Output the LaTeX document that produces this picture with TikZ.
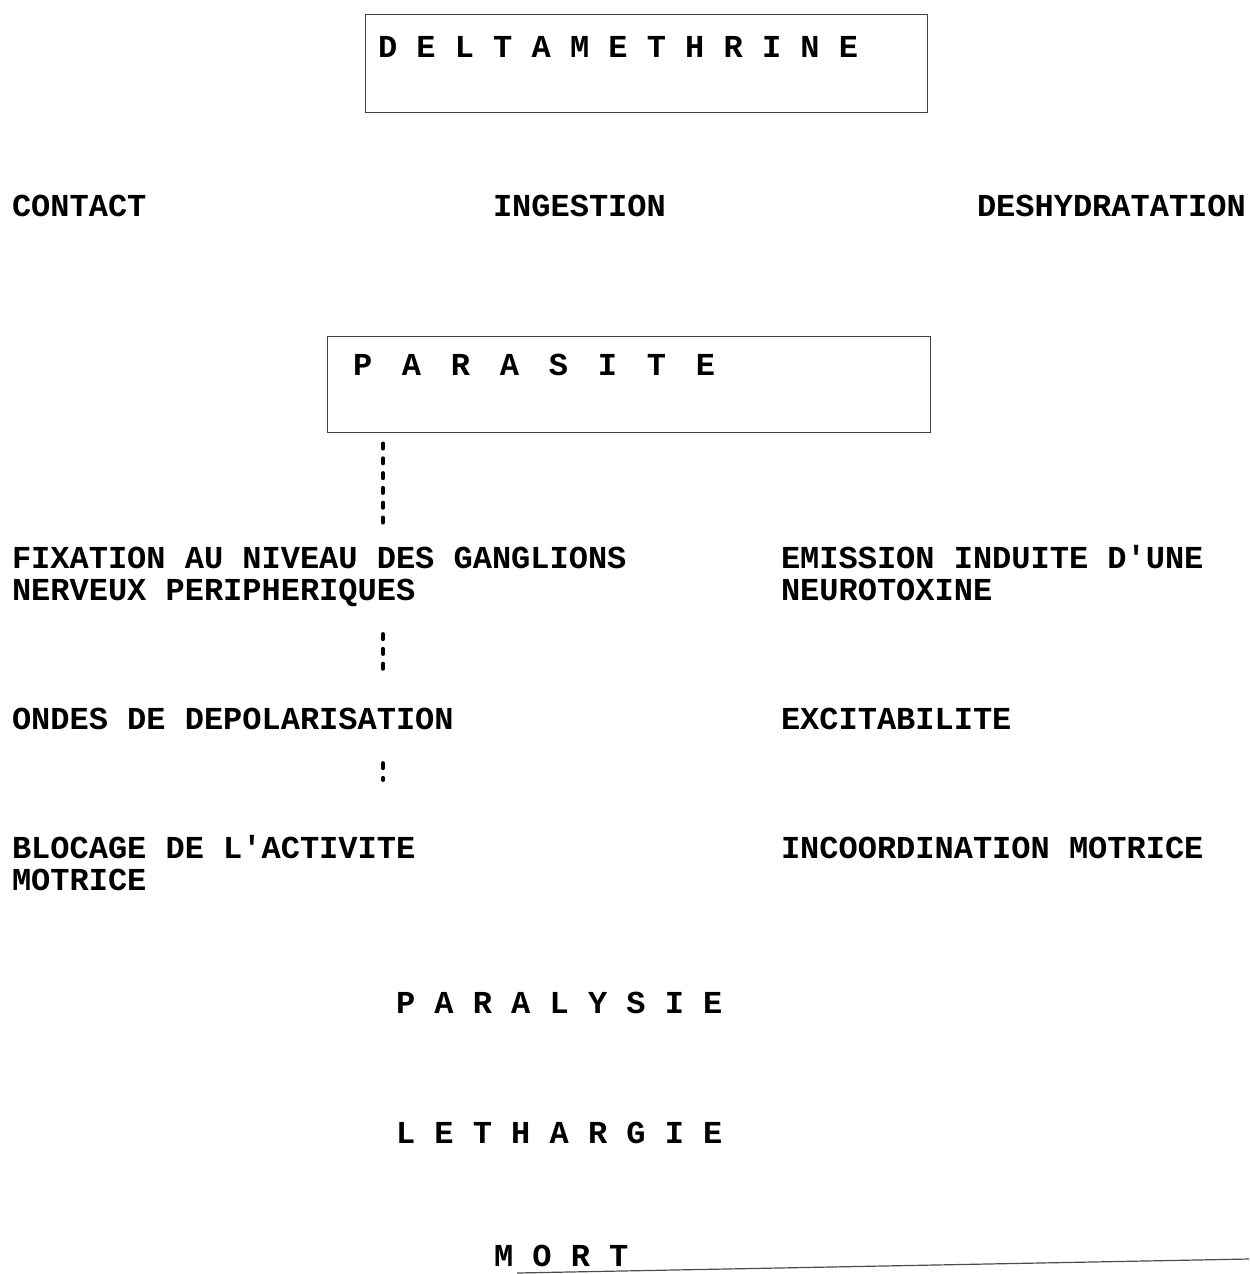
\documentclass[tikz,border=0pt]{standalone}
\usepackage{fontspec}
\setmonofont{Liberation Mono}
\usetikzlibrary{calc}
\begin{document}
\begin{tikzpicture}[x=0.5pt,y=-0.5pt,
  lbl/.style={anchor=base west,inner sep=0pt,outer sep=0pt,align=left,
    font=\ttfamily\bfseries\fontsize{16}{16}\selectfont},
  frame/.style={draw=black!75,line width=0.7pt},
  conn/.style={line width=1.9pt,line cap=round,dash pattern=on 2.6pt off 4.8pt},
  rise/.style={draw=black!70,line width=0.6pt}]
\useasboundingbox (0,0) rectangle (1249,1274);
% boxes
\node[frame,minimum width=281pt,minimum height=49pt,anchor=north west,inner sep=0pt] (delbox) at (365,14) {};
\node[lbl] (delta) at (378,57) {D E L T A M E T H R I N E};
\node[frame,minimum width=301.5pt,minimum height=48pt,anchor=north west,inner sep=0pt] (parasite) at (327,336) {};
\node[lbl] (para) at (353,375) {\makebox[24.5pt][l]{P}\makebox[24.5pt][l]{A}\makebox[24.5pt][l]{R}\makebox[24.5pt][l]{A}\makebox[24.5pt][l]{S}\makebox[24.5pt][l]{I}\makebox[24.5pt][l]{T}E};
% routes
\node[lbl] (contact) at (12,216) {CONTACT};
\node[lbl] (ingestion) at (493,216) {INGESTION};
\node[lbl] (deshyd) at (977,216) {DESHYDRATATION};
% left column (base = baseline of last line)
\node[lbl] (fix) at (12,600) {FIXATION AU NIVEAU DES GANGLIONS\\NERVEUX PERIPHERIQUES};
\node[lbl] (ondes) at (12,729) {ONDES DE DEPOLARISATION};
\node[lbl] (blocage) at (12,890) {BLOCAGE DE L'ACTIVITE\\MOTRICE};
% right column
\node[lbl] (emission) at (781,600) {EMISSION INDUITE D'UNE\\NEUROTOXINE};
\node[lbl] (excit) at (781,729) {EXCITABILITE};
\node[lbl] (incoord) at (781,858) {INCOORDINATION MOTRICE};
% bottom
\node[lbl] (paralysie) at (396,1013) {P A R A L Y S I E};
\node[lbl] (lethargie) at (396,1143) {L E T H A R G I E};
\node[lbl] (mort) at (494,1266) {M O R T};
% connectors
\coordinate (col) at (383,0);
\draw[conn] ($(parasite.south -| col)+(0,10)$) -- ($(fix.base -| col)+(0,-72)$);
\draw[conn] ($(fix.base -| col)+(0,34)$) -- ($(ondes.base -| col)+(0,-52)$);
\draw[conn] ($(ondes.base -| col)+(0,34)$) -- ($(blocage.base -| col)+(0,-110)$);
\coordinate (mortend) at (1249,1259);
\draw[rise] ($(mort.base west)+(23,7)$) -- (mortend);
\end{tikzpicture}
\end{document}
